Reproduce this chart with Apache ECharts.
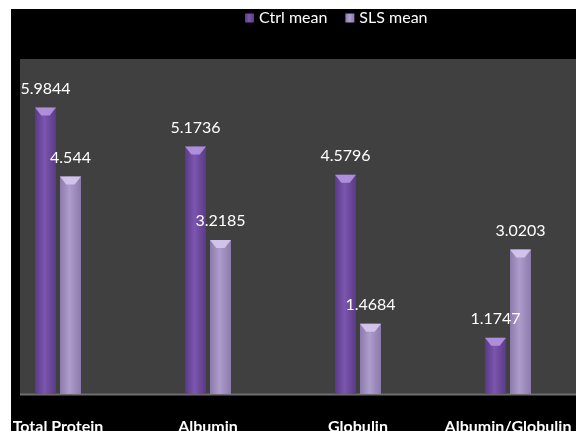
<!DOCTYPE html>
<html>
<head>
<meta charset="utf-8">
<script src="https://cdn.jsdelivr.net/npm/echarts@6/dist/echarts.min.js"></script>
<style>
html,body{margin:0;padding:0;background:#fff;overflow:hidden;width:576px;height:431px;position:relative;}
#chart{position:absolute;left:-17px;top:0;width:617px;height:431px;}
</style>
</head>
<body>
<div id="chart"></div>
<script>
var categories = ['Total Protein', 'Albumin', 'Globulin', 'Albumin/Globulin'];
var seriesNames = ['Ctrl mean', 'SLS mean'];
var ctrlMean = [5.9844, 5.1736, 4.5796, 1.1747];
var slsMean = [4.544, 3.2185, 1.4684, 3.0203];

function hGrad(edge, mid) {
  return new echarts.graphic.LinearGradient(0, 0, 1, 0, [
    {offset: 0, color: edge}, {offset: 0.45, color: mid}, {offset: 1, color: edge}
  ]);
}
var ctrlColor = hGrad('#5a3a88', '#7c56ae');
var slsColor = hGrad('#8c7aac', '#ae9ccd');

var chart = echarts.init(document.getElementById('chart'));
var FONT = 'Lato';
var barW = 21, gap = '19%';
var OX = 17; // offset of page origin inside the chart canvas

function bevel(name, data, color) {
  return {
    type: 'pictorialBar', name: name, data: data,
    symbol: 'path://M0,0 L20,0 L14,7 L6,7 Z',
    symbolSize: [barW, 8], symbolPosition: 'end', symbolOffset: [0, 0],
    barWidth: barW, barGap: gap, z: 5, silent: true,
    itemStyle: {color: color, opacity: 0.9},
    legendHoverLink: false
  };
}

chart.setOption({
  backgroundColor: '#000',
  animation: false,
  legend: {
    data: seriesNames,
    top: 5, left: 240 + OX,
    itemWidth: 9, itemHeight: 9, itemGap: 18,
    icon: 'rect',
    textStyle: {color: '#fff', fontSize: 16, fontFamily: FONT}
  },
  grid: {left: 0, right: 17, top: 59, bottom: 37, containLabel: false, outerBoundsMode: 'none'},
  xAxis: {
    type: 'category', data: categories,
    axisLine: {show: false}, axisTick: {show: false},
    axisLabel: {color: '#fff', fontSize: 16, fontWeight: 'bold', fontFamily: FONT, margin: 25, interval: 0}
  },
  yAxis: {type: 'value', min: 0, max: 7, show: false, splitLine: {show: false}},
  graphic: [
    {type: 'rect', z: -10, shape: {x: 20 + OX, y: 59, width: 556, height: 335}, style: {fill: '#404040'}},
    {type: 'line', z: -9, shape: {x1: 20 + OX, y1: 394.5, x2: 576 + OX, y2: 394.5}, style: {stroke: '#6e6e6e', lineWidth: 2}},
    {type: 'rect', z: 100, shape: {x: 0, y: 0, width: 576 + OX, height: 9}, style: {fill: '#fff'}},
    {type: 'rect', z: 100, shape: {x: 0, y: 0, width: 11 + OX, height: 431}, style: {fill: '#fff'}}
  ],
  series: [
    {
      type: 'bar', name: seriesNames[0], data: ctrlMean,
      barWidth: barW, barGap: gap,
      itemStyle: {color: ctrlColor},
      label: {show: true, position: 'top', distance: 11, color: '#fff', fontSize: 16, fontFamily: FONT}
    },
    {
      type: 'bar', name: seriesNames[1], data: slsMean,
      barWidth: barW, barGap: gap,
      itemStyle: {color: slsColor},
      label: {show: true, position: 'top', distance: 11, color: '#fff', fontSize: 16, fontFamily: FONT}
    },
    bevel(seriesNames[0], ctrlMean, '#b596e0'),
    bevel(seriesNames[1], slsMean, '#d6c8ee')
  ]
});
</script>
</body>
</html>
